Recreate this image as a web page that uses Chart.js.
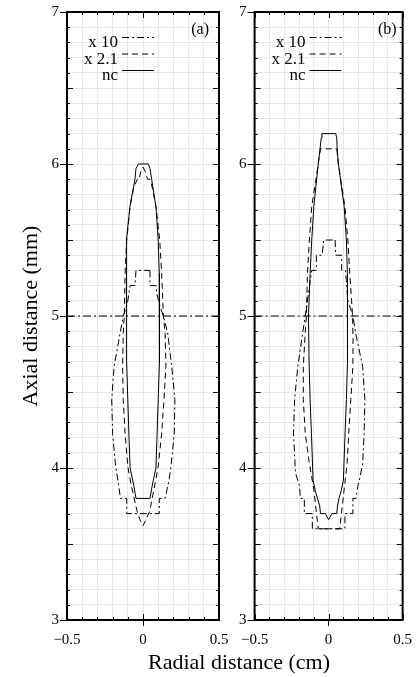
<!DOCTYPE html>
<html>
<head>
<meta charset="utf-8">
<script src="https://cdn.jsdelivr.net/npm/chart.js@4.4.1/dist/chart.umd.min.js"></script>
<style>
  html, body { margin: 0; padding: 0; background: #fff; overflow: hidden; }
  #wrap { position: relative; width: 417px; height: 677px; }
  canvas { position: absolute; top: 0; }
  #xtitle { position: absolute; left: 119px; width: 240px; top: 649px; text-align: center;
            font: 22px "Liberation Serif"; line-height: 26px; white-space: nowrap; color: #000; }
</style>
</head>
<body>
<div id="wrap">
  <canvas id="chartA" width="236" height="677" style="left:0"></canvas>
  <canvas id="chartB" width="181" height="677" style="left:236px"></canvas>
  <div id="xtitle">Radial distance (cm)</div>
</div>
<script>
// axes
const xRange = [-0.5, 0.5];
const yRange = [3, 7];
const xLabelled = [-0.5, 0, 0.5];
const xLabelText = ['\u22120.5', '0', '0.5'];
const yLabelled = [3, 4, 5, 6, 7];
const seriesNames = ['x 10', 'x 2.1', 'nc'];
const axialMark = 5;

// panel (a) contours, [radial cm, axial mm]
const aX10 = [
  [0.046, 5.3], [0.046, 5.2], [0.085, 5.2], [0.09, 5.15], [0.11, 5.07], [0.134, 5.0],
  [0.162, 4.89], [0.189, 4.67], [0.21, 4.45], [0.206, 4.23], [0.184, 4.01], [0.171, 3.92],
  [0.15, 3.82], [0.145, 3.8], [0.107, 3.8], [0.107, 3.7], [-0.107, 3.7], [-0.107, 3.8],
  [-0.15, 3.8], [-0.151, 3.82], [-0.165, 3.92], [-0.18, 4.01], [-0.2, 4.23], [-0.206, 4.45],
  [-0.19, 4.67], [-0.15, 4.89], [-0.13, 5.0], [-0.103, 5.08], [-0.085, 5.2], [-0.053, 5.2],
  [-0.046, 5.3]
];
const aX21 = [
  [0, 5.98], [0.015, 5.95], [0.03, 5.9], [0.046, 5.9], [0.06, 5.85], [0.085, 5.72], [0.11, 5.5],
  [0.123, 5.28], [0.134, 5.0], [0.145, 4.89], [0.151, 4.67], [0.138, 4.45], [0.123, 4.23],
  [0.1, 4.01], [0.08, 3.9], [0.045, 3.72], [0.02, 3.66], [0, 3.62], [-0.02, 3.66],
  [-0.04, 3.72], [-0.08, 3.9], [-0.1, 4.01], [-0.118, 4.23], [-0.13, 4.45], [-0.134, 4.67],
  [-0.13, 4.89], [-0.123, 5.0], [-0.118, 5.28], [-0.107, 5.5], [-0.085, 5.72], [-0.06, 5.85],
  [-0.037, 5.9], [-0.025, 5.9], [-0.015, 5.95]
];
const aNc = [
  [0.035, 6.0], [0.046, 5.97], [0.057, 5.9], [0.085, 5.72], [0.1, 5.5], [0.107, 5.28], [0.11, 5.0],
  [0.107, 4.7], [0.1, 4.45], [0.092, 4.2], [0.085, 4.0], [0.068, 3.92], [0.06, 3.88], [0.046, 3.8],
  [-0.046, 3.8], [-0.06, 3.88], [-0.068, 3.92], [-0.085, 4.0], [-0.092, 4.2], [-0.1, 4.45],
  [-0.108, 4.7], [-0.11, 5.0], [-0.11, 5.28], [-0.107, 5.5], [-0.086, 5.72], [-0.053, 5.9],
  [-0.046, 5.97], [-0.03, 6.0]
];

// panel (b) contours
const bX10 = [
  [0.044, 5.5], [0.048, 5.4], [0.088, 5.4], [0.088, 5.3], [0.114, 5.3], [0.13, 5.1],
  [0.164, 5.0], [0.186, 4.87], [0.23, 4.67], [0.245, 4.45], [0.24, 4.23], [0.23, 4.03],
  [0.208, 3.92], [0.197, 3.88], [0.186, 3.8], [0.164, 3.8], [0.164, 3.7], [0.11, 3.7],
  [0.11, 3.6], [-0.11, 3.6], [-0.11, 3.7], [-0.164, 3.7], [-0.164, 3.8], [-0.19, 3.8],
  [-0.197, 3.88], [-0.224, 3.97], [-0.237, 4.23], [-0.23, 4.45], [-0.208, 4.67],
  [-0.175, 4.89], [-0.158, 5.0], [-0.143, 5.1], [-0.114, 5.3], [-0.083, 5.3], [-0.083, 5.4],
  [-0.044, 5.4], [-0.033, 5.5]
];
const bX21 = [
  [0.055, 6.1], [0.066, 6.0], [0.11, 5.72], [0.13, 5.5], [0.143, 5.28], [0.162, 5.0],
  [0.165, 4.85], [0.164, 4.67], [0.15, 4.45], [0.136, 4.23], [0.125, 4.03], [0.105, 3.86],
  [0.075, 3.6], [-0.07, 3.6], [-0.1, 3.86], [-0.13, 4.03], [-0.158, 4.23], [-0.171, 4.45],
  [-0.171, 4.67], [-0.158, 4.89], [-0.15, 5.0], [-0.143, 5.28], [-0.13, 5.5], [-0.114, 5.72],
  [-0.07, 6.0], [-0.055, 6.1]
];
const bNc = [
  [0.048, 6.2], [0.055, 6.17], [0.058, 6.1], [0.066, 6.0], [0.105, 5.72], [0.12, 5.5],
  [0.127, 5.28], [0.13, 5.0], [0.125, 4.7], [0.12, 4.45], [0.11, 4.2], [0.1, 3.92],
  [0.085, 3.85], [0.07, 3.8], [0.06, 3.75], [0.055, 3.7], [0.022, 3.7], [0, 3.66],
  [-0.022, 3.7], [-0.055, 3.7], [-0.06, 3.75], [-0.075, 3.8], [-0.09, 3.85], [-0.105, 3.92],
  [-0.115, 4.2], [-0.125, 4.45], [-0.132, 4.7], [-0.136, 5.0], [-0.125, 5.28], [-0.114, 5.5],
  [-0.1, 5.72], [-0.07, 6.0], [-0.058, 6.1], [-0.05, 6.17], [-0.045, 6.2]
];

Chart.defaults.font.family = '"Liberation Serif", "Times New Roman", serif';
Chart.defaults.color = '#000';

const dashes = [[7, 3, 2, 3], [6, 4], []];

function loop(arr) {
  const pts = arr.map(p => ({ x: p[0], y: p[1] }));
  pts.push(pts[0]);
  return pts;
}
function near(v, list) { return list.findIndex(t => Math.abs(t - v) < 1e-6); }
function isMajor(v) { return Math.abs(v * 2 - Math.round(v * 2)) < 1e-6; }

// frame, inward ticks, legend and panel tag
const framePlugin = {
  id: 'frame',
  afterDatasetsDraw(chart, args, o) {
    const { ctx, chartArea: a, scales: { x, y } } = chart;
    ctx.save();
    ctx.strokeStyle = '#000';
    ctx.lineWidth = 1;
    ctx.setLineDash([]);
    ctx.beginPath();
    x.ticks.forEach(t => {
      const px = Math.round(x.getPixelForValue(t.value)) + 0.5;
      const len = isMajor(t.value) ? 6 : 3;
      ctx.moveTo(px, a.bottom); ctx.lineTo(px, a.bottom - len);
      ctx.moveTo(px, a.top); ctx.lineTo(px, a.top + len);
    });
    y.ticks.forEach(t => {
      const py = Math.round(y.getPixelForValue(t.value)) + 0.5;
      const len = isMajor(t.value) ? 6 : 3;
      ctx.moveTo(a.left, py); ctx.lineTo(a.left + len, py);
      ctx.moveTo(a.right, py); ctx.lineTo(a.right - len, py);
    });
    ctx.stroke();
    ctx.lineWidth = 2;
    ctx.strokeRect(a.left, a.top, a.right - a.left, a.bottom - a.top);

    // legend
    ctx.font = '17px "Liberation Serif"';
    ctx.fillStyle = '#000';
    ctx.textAlign = 'right';
    ctx.textBaseline = 'alphabetic';
    ctx.lineWidth = 1;
    chart.data.datasets.forEach(ds => {
      if (ds.legendRow === undefined) return;
      const base = a.top + 35 + ds.legendRow * 16.5;
      ctx.fillText(ds.label, a.left + 51, base);
      ctx.setLineDash(ds.borderDash || []);
      ctx.beginPath();
      ctx.moveTo(a.left + 55, base - 9.5);
      ctx.lineTo(a.left + 87, base - 9.5);
      ctx.stroke();
    });
    ctx.setLineDash([]);
    ctx.font = '16px "Liberation Serif"';
    ctx.fillText(o.tag, a.right - o.tagGap, a.top + 22);
    ctx.restore();
  }
};

function makeChart(id, contours, opt) {
  const datasets = contours.map((c, i) => ({
    label: seriesNames[i],
    legendRow: i,
    data: loop(c),
    borderColor: '#000',
    borderWidth: 1,
    borderDash: dashes[i],
    showLine: true,
    pointRadius: 0,
    tension: 0
  }));
  datasets.push({
    label: 'mark',
    data: [{ x: xRange[0], y: axialMark }, { x: xRange[1], y: axialMark }],
    borderColor: '#000',
    borderWidth: 1,
    borderDash: [8, 3, 2, 3],
    showLine: true,
    pointRadius: 0
  });

  return new Chart(document.getElementById(id), {
    type: 'scatter',
    data: { datasets },
    options: {
      responsive: false,
      animation: false,
      layout: { padding: { top: 12, right: opt.padRight, left: 0, bottom: 0 } },
      plugins: {
        legend: { display: false },
        tooltip: { enabled: false },
        frame: { tag: opt.tag, tagGap: opt.tagGap }
      },
      scales: {
        x: {
          type: 'linear', min: xRange[0], max: xRange[1],
          afterFit: s => { s.height = 57; },
          border: { display: false },
          grid: {
            color: '#e6e6e6', lineWidth: 1, tickLength: 6,
            tickColor: c => (c.tick && Math.abs(c.tick.value) < 1e-6) ? '#000' : 'rgba(0,0,0,0)'
          },
          ticks: {
            stepSize: 0.1, autoSkip: false, maxRotation: 0, minRotation: 0, padding: 5,
            font: { size: 15 },
            callback: v => { const k = near(v, xLabelled); return k < 0 ? '' : xLabelText[k]; }
          }
        },
        y: {
          type: 'linear', min: yRange[0], max: yRange[1],
          afterFit: s => { s.width = opt.yWidth; },
          border: { display: false },
          grid: {
            color: '#e6e6e6', lineWidth: 1, tickLength: 7,
            tickColor: c => (c.tick && near(c.tick.value, yLabelled) >= 0) ? '#000' : 'rgba(0,0,0,0)'
          },
          ticks: {
            stepSize: 0.1, autoSkip: false, padding: 1,
            font: { size: 15 },
            callback: v => near(v, yLabelled) < 0 ? '' : String(Math.round(v))
          },
          title: {
            display: !!opt.yTitle, text: opt.yTitle || '',
            font: { size: 22, lineHeight: 1.2 },
            padding: { top: 18, bottom: 0 }
          }
        }
      }
    },
    plugins: [framePlugin]
  });
}

makeChart('chartA', [aX10, aX21, aNc], { padRight: 17, yWidth: 67, tag: '(a)', tagGap: 10, yTitle: 'Axial distance (mm)' });
makeChart('chartB', [bX10, bX21, bNc], { padRight: 11, yWidth: 18, tag: '(b)', tagGap: 6 });
</script>
</body>
</html>
